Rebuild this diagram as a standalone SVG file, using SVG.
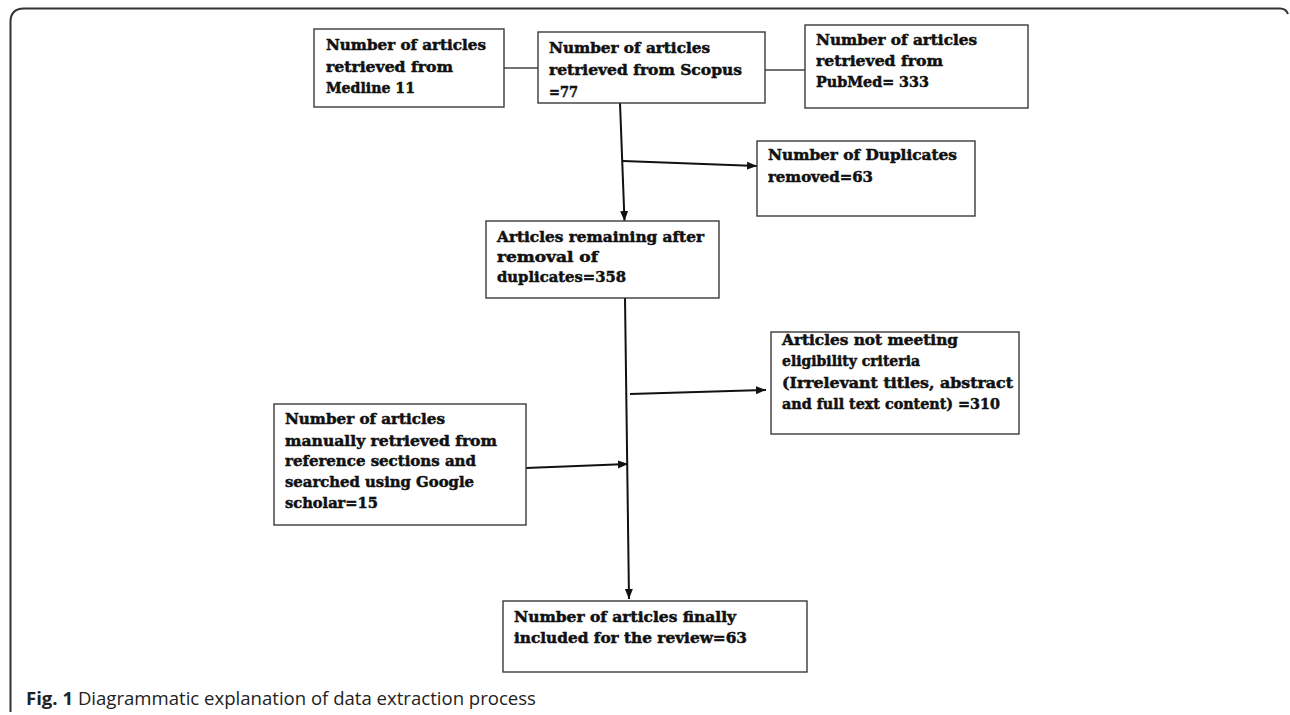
<svg xmlns="http://www.w3.org/2000/svg" width="1290" height="715" viewBox="0 0 1290 715">
<style>
.box{fill:#fff;stroke:#3a3a3a;stroke-width:1.4}
.t{font-family:"DejaVu Serif","Liberation Serif",serif;font-weight:bold;font-size:15px;fill:#111;stroke:#111;stroke-width:0.5}
.c{fill:none;stroke:#111;stroke-width:2}
.thin{fill:none;stroke:#444;stroke-width:1.3}
.cap{font-family:"Open Sans","Noto Sans",sans-serif;font-size:17.5px;fill:#222}
</style>
<defs>
<marker id="ah" markerUnits="userSpaceOnUse" markerWidth="10" markerHeight="10" viewBox="0 0 10 10" refX="10" refY="5" orient="auto">
<path d="M0,1 L10,5 L0,9 Z" fill="#111"/>
</marker>
</defs>
<rect width="1290" height="715" fill="#fff"/>
<path d="M10.5,712 Q10.5,708 10.5,704 L10.5,22 Q10.5,8.5 24,8.5 L1280,8.5 Q1286,8.5 1288,14" fill="none" stroke="#333" stroke-width="2"/>
<g id="connectors">
<line class="thin" x1="504" y1="68" x2="538" y2="68"/>
<line class="thin" x1="765" y1="70" x2="805" y2="70"/>
<line class="c" x1="620" y1="103" x2="624.5" y2="221" marker-end="url(#ah)"/>
<line class="c" x1="623" y1="161" x2="757" y2="166" marker-end="url(#ah)"/>
<line class="c" x1="625" y1="298" x2="629" y2="599" marker-end="url(#ah)"/>
<line class="c" x1="630" y1="394" x2="766" y2="390" marker-end="url(#ah)"/>
<line class="c" x1="526" y1="468" x2="628" y2="464" marker-end="url(#ah)"/>
</g>
<g id="medline">
<rect class="box" x="314" y="29" width="190" height="78"/>
<text class="t" x="326" y="50" textLength="160" lengthAdjust="spacingAndGlyphs">Number of articles</text>
<text class="t" x="326" y="72" textLength="127" lengthAdjust="spacingAndGlyphs">retrieved from</text>
<text class="t" x="326" y="93" textLength="89" lengthAdjust="spacingAndGlyphs">Medline 11</text>
</g>
<g id="scopus">
<rect class="box" x="538" y="32" width="227" height="71"/>
<text class="t" x="549" y="53" textLength="161" lengthAdjust="spacingAndGlyphs">Number of articles</text>
<text class="t" x="549" y="75" textLength="193" lengthAdjust="spacingAndGlyphs">retrieved from Scopus</text>
<text class="t" x="549" y="97" textLength="29" lengthAdjust="spacingAndGlyphs">=77</text>
</g>
<g id="pubmed">
<rect class="box" x="805" y="25" width="223" height="83"/>
<text class="t" x="816" y="45" textLength="161" lengthAdjust="spacingAndGlyphs">Number of articles</text>
<text class="t" x="816" y="66" textLength="127" lengthAdjust="spacingAndGlyphs">retrieved from</text>
<text class="t" x="816" y="87" textLength="113" lengthAdjust="spacingAndGlyphs">PubMed= 333</text>
</g>
<g id="duplicates">
<rect class="box" x="757" y="141" width="218" height="75"/>
<text class="t" x="768" y="160" textLength="189" lengthAdjust="spacingAndGlyphs">Number of Duplicates</text>
<text class="t" x="768" y="182" textLength="105" lengthAdjust="spacingAndGlyphs">removed=63</text>
</g>
<g id="remaining">
<rect class="box" x="486" y="221" width="233" height="77"/>
<text class="t" x="497" y="242" textLength="207" lengthAdjust="spacingAndGlyphs">Articles remaining after</text>
<text class="t" x="497" y="262" textLength="101" lengthAdjust="spacingAndGlyphs">removal of</text>
<text class="t" x="497" y="282" textLength="129" lengthAdjust="spacingAndGlyphs">duplicates=358</text>
</g>
<g id="eligibility">
<rect class="box" x="771" y="332" width="248" height="102"/>
<text class="t" x="782" y="345" textLength="176" lengthAdjust="spacingAndGlyphs">Articles not meeting</text>
<text class="t" x="782" y="366" textLength="138" lengthAdjust="spacingAndGlyphs">eligibility criteria</text>
<text class="t" x="782" y="388" textLength="231" lengthAdjust="spacingAndGlyphs">(Irrelevant titles, abstract</text>
<text class="t" x="782" y="409" textLength="218" lengthAdjust="spacingAndGlyphs">and full text content) =310</text>
</g>
<g id="google">
<rect class="box" x="274" y="404" width="252" height="121"/>
<text class="t" x="285" y="424" textLength="160" lengthAdjust="spacingAndGlyphs">Number of articles</text>
<text class="t" x="285" y="446" textLength="212" lengthAdjust="spacingAndGlyphs">manually retrieved from</text>
<text class="t" x="285" y="466" textLength="191" lengthAdjust="spacingAndGlyphs">reference sections and</text>
<text class="t" x="285" y="487" textLength="189" lengthAdjust="spacingAndGlyphs">searched using Google</text>
<text class="t" x="285" y="508" textLength="93" lengthAdjust="spacingAndGlyphs">scholar=15</text>
</g>
<g id="final">
<rect class="box" x="503" y="601" width="304" height="71"/>
<text class="t" x="514" y="622" textLength="222" lengthAdjust="spacingAndGlyphs">Number of articles finally</text>
<text class="t" x="514" y="643" textLength="233" lengthAdjust="spacingAndGlyphs">included for the review=63</text>
</g>
<g id="caption">
<text class="cap" x="26" y="705" textLength="510" lengthAdjust="spacingAndGlyphs"><tspan font-weight="bold">Fig. 1</tspan> Diagrammatic explanation of data extraction process</text>
</g>
</svg>
